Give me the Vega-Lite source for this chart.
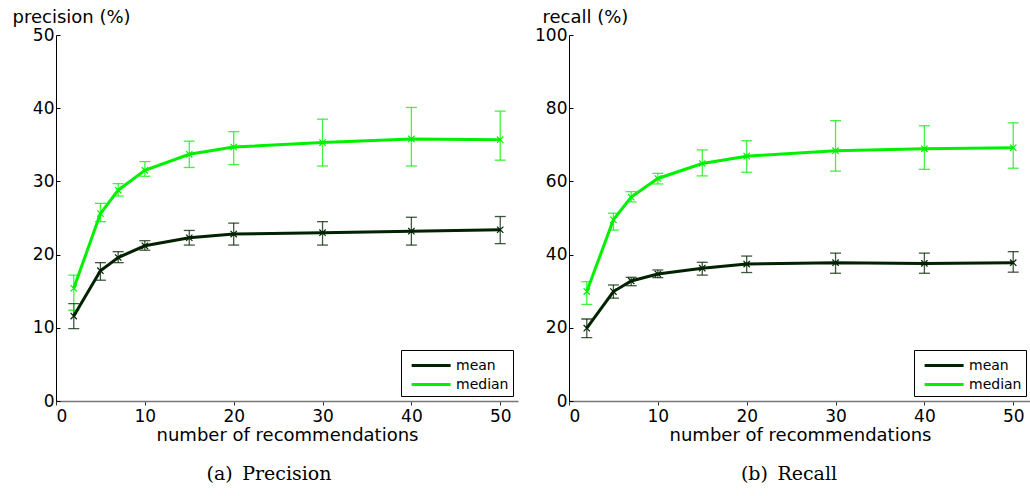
{
  "$schema": "https://vega.github.io/schema/vega-lite/v6.json",
  "background": "#ffffff",
  "padding": {"left": 12, "top": 8, "right": 0, "bottom": 0},
  "bounds": "flush",
  "spacing": 51,
  "datasets": {
    "precision": [
      {"k": 2, "series": "mean", "v": 11.6, "lo": 9.9, "hi": 13.3},
      {"k": 5, "series": "mean", "v": 17.8, "lo": 16.5, "hi": 18.9},
      {"k": 7, "series": "mean", "v": 19.6, "lo": 18.9, "hi": 20.4},
      {"k": 10, "series": "mean", "v": 21.2, "lo": 20.6, "hi": 21.9},
      {"k": 15, "series": "mean", "v": 22.3, "lo": 21.3, "hi": 23.3},
      {"k": 20, "series": "mean", "v": 22.8, "lo": 21.3, "hi": 24.3},
      {"k": 30, "series": "mean", "v": 23.0, "lo": 21.3, "hi": 24.5},
      {"k": 40, "series": "mean", "v": 23.2, "lo": 21.3, "hi": 25.1},
      {"k": 50, "series": "mean", "v": 23.4, "lo": 21.5, "hi": 25.2},
      {"k": 2, "series": "median", "v": 15.4, "lo": 12.4, "hi": 17.2},
      {"k": 5, "series": "median", "v": 25.6, "lo": 24.5, "hi": 27.0},
      {"k": 7, "series": "median", "v": 28.8, "lo": 28.0, "hi": 29.7},
      {"k": 10, "series": "median", "v": 31.5, "lo": 30.7, "hi": 32.7},
      {"k": 15, "series": "median", "v": 33.7, "lo": 31.9, "hi": 35.5},
      {"k": 20, "series": "median", "v": 34.7, "lo": 32.3, "hi": 36.8},
      {"k": 30, "series": "median", "v": 35.3, "lo": 32.1, "hi": 38.5},
      {"k": 40, "series": "median", "v": 35.8, "lo": 32.1, "hi": 40.1},
      {"k": 50, "series": "median", "v": 35.7, "lo": 32.9, "hi": 39.6}
    ],
    "recall": [
      {"k": 2, "series": "mean", "v": 19.9, "lo": 17.3, "hi": 22.4},
      {"k": 5, "series": "mean", "v": 29.9, "lo": 28.1, "hi": 31.7},
      {"k": 7, "series": "mean", "v": 32.8, "lo": 31.5, "hi": 33.8},
      {"k": 10, "series": "mean", "v": 34.7, "lo": 33.7, "hi": 35.8},
      {"k": 15, "series": "mean", "v": 36.3, "lo": 34.4, "hi": 37.9},
      {"k": 20, "series": "mean", "v": 37.4, "lo": 35.1, "hi": 39.6},
      {"k": 30, "series": "mean", "v": 37.8, "lo": 34.9, "hi": 40.4},
      {"k": 40, "series": "mean", "v": 37.6, "lo": 34.9, "hi": 40.4},
      {"k": 50, "series": "mean", "v": 37.8, "lo": 35.2, "hi": 40.8},
      {"k": 2, "series": "median", "v": 29.9, "lo": 26.4, "hi": 32.6},
      {"k": 5, "series": "median", "v": 49.5, "lo": 46.7, "hi": 51.3},
      {"k": 7, "series": "median", "v": 55.7, "lo": 54.4, "hi": 57.2},
      {"k": 10, "series": "median", "v": 60.8, "lo": 59.3, "hi": 62.2},
      {"k": 15, "series": "median", "v": 64.9, "lo": 61.5, "hi": 68.6},
      {"k": 20, "series": "median", "v": 66.9, "lo": 62.5, "hi": 71.1},
      {"k": 30, "series": "median", "v": 68.4, "lo": 62.8, "hi": 76.6},
      {"k": 40, "series": "median", "v": 68.9, "lo": 63.3, "hi": 75.2},
      {"k": 50, "series": "median", "v": 69.2, "lo": 63.6, "hi": 76.0}
    ]
  },
  "hconcat": [
    {
      "width": 462,
      "height": 366,
      "data": {"name": "precision"},
      "title": {"text": "(a)\u2002Precision", "orient": "bottom", "font": "DejaVu Serif", "fontSize": 19, "fontWeight": "normal", "color": "#000000", "offset": 21, "dx": -18},
      "encoding": {
        "x": {"field": "k", "type": "quantitative", "scale": {"domain": [0, 52], "nice": false},
              "axis": {"title": "number of recommendations", "values": [0, 10, 20, 30, 40, 50]}},
        "color": {"field": "series", "type": "nominal", "scale": {"domain": ["mean", "median"], "range": ["#002200", "#00f000"]},
                  "legend": {"title": null, "orient": "bottom-right", "offset": 5, "strokeColor": "#000000", "fillColor": "#ffffff", "padding": 4, "symbolType": "M-0.5,0H3.5", "symbolSize": 380, "symbolStrokeWidth": 3, "symbolOpacity": 1, "labelOffset": 28, "labelFont": "DejaVu Sans", "labelFontSize": 14, "labelColor": "#000000", "rowPadding": 0}}
      },
      "layer": [
        {"mark": {"type": "rule", "strokeWidth": 1.3, "opacity": 0.75},
         "encoding": {"y": {"field": "lo", "type": "quantitative", "scale": {"domain": [0, 50], "nice": false},
                            "axis": {"title": "precision (%)", "values": [0, 10, 20, 30, 40, 50], "titleAngle": 0, "titleAlign": "left", "titleBaseline": "alphabetic", "titleX": -44, "titleY": -13}},
                      "y2": {"field": "hi"}}},
        {"mark": {"type": "tick", "orient": "horizontal", "size": 11, "thickness": 1.3, "opacity": 0.75},
         "encoding": {"y": {"field": "lo", "type": "quantitative"}}},
        {"mark": {"type": "tick", "orient": "horizontal", "size": 11, "thickness": 1.3, "opacity": 0.75},
         "encoding": {"y": {"field": "hi", "type": "quantitative"}}},
        {"mark": {"type": "line", "strokeWidth": 3},
         "encoding": {"y": {"field": "v", "type": "quantitative"}}},
        {"mark": {"type": "point", "shape": "M-1,-1L1,1M1,-1L-1,1", "size": 40, "filled": false, "strokeWidth": 1.2, "opacity": 1},
         "encoding": {"y": {"field": "v", "type": "quantitative"}}}
      ]
    },
    {
      "width": 462,
      "height": 366,
      "data": {"name": "recall"},
      "title": {"text": "(b)\u2002Recall", "orient": "bottom", "font": "DejaVu Serif", "fontSize": 19, "fontWeight": "normal", "color": "#000000", "offset": 21, "dx": -11},
      "encoding": {
        "x": {"field": "k", "type": "quantitative", "scale": {"domain": [0, 52], "nice": false},
              "axis": {"title": "number of recommendations", "values": [0, 10, 20, 30, 40, 50]}},
        "color": {"field": "series", "type": "nominal", "scale": {"domain": ["mean", "median"], "range": ["#002200", "#00f000"]},
                  "legend": {"title": null, "orient": "bottom-right", "offset": 5, "strokeColor": "#000000", "fillColor": "#ffffff", "padding": 4, "symbolType": "M-0.5,0H3.5", "symbolSize": 380, "symbolStrokeWidth": 3, "symbolOpacity": 1, "labelOffset": 28, "labelFont": "DejaVu Sans", "labelFontSize": 14, "labelColor": "#000000", "rowPadding": 0}}
      },
      "layer": [
        {"mark": {"type": "rule", "strokeWidth": 1.3, "opacity": 0.75},
         "encoding": {"y": {"field": "lo", "type": "quantitative", "scale": {"domain": [0, 100], "nice": false},
                            "axis": {"title": "recall (%)", "values": [0, 20, 40, 60, 80, 100], "titleAngle": 0, "titleAlign": "left", "titleBaseline": "alphabetic", "titleX": -27, "titleY": -13}},
                      "y2": {"field": "hi"}}},
        {"mark": {"type": "tick", "orient": "horizontal", "size": 11, "thickness": 1.3, "opacity": 0.75},
         "encoding": {"y": {"field": "lo", "type": "quantitative"}}},
        {"mark": {"type": "tick", "orient": "horizontal", "size": 11, "thickness": 1.3, "opacity": 0.75},
         "encoding": {"y": {"field": "hi", "type": "quantitative"}}},
        {"mark": {"type": "line", "strokeWidth": 3},
         "encoding": {"y": {"field": "v", "type": "quantitative"}}},
        {"mark": {"type": "point", "shape": "M-1,-1L1,1M1,-1L-1,1", "size": 40, "filled": false, "strokeWidth": 1.2, "opacity": 1},
         "encoding": {"y": {"field": "v", "type": "quantitative"}}}
      ]
    }
  ],
  "resolve": {"scale": {"color": "independent"}, "legend": {"color": "independent"}},
  "config": {
    "view": {"stroke": null},
    "axis": {"grid": false, "labelFont": "DejaVu Sans", "labelFontSize": 17, "labelColor": "#000000", "titleFont": "DejaVu Sans", "titleFontSize": 18, "titleFontWeight": "normal", "titleColor": "#000000"},
    "axisY": {"domainColor": "#000000", "tickColor": "#000000", "tickSize": -4, "labelPadding": 6},
    "axisX": {"domainColor": "#777777", "domainWidth": 1.5, "tickColor": "#333333", "tickSize": 4, "labelPadding": 3, "titlePadding": 2}
  }
}
